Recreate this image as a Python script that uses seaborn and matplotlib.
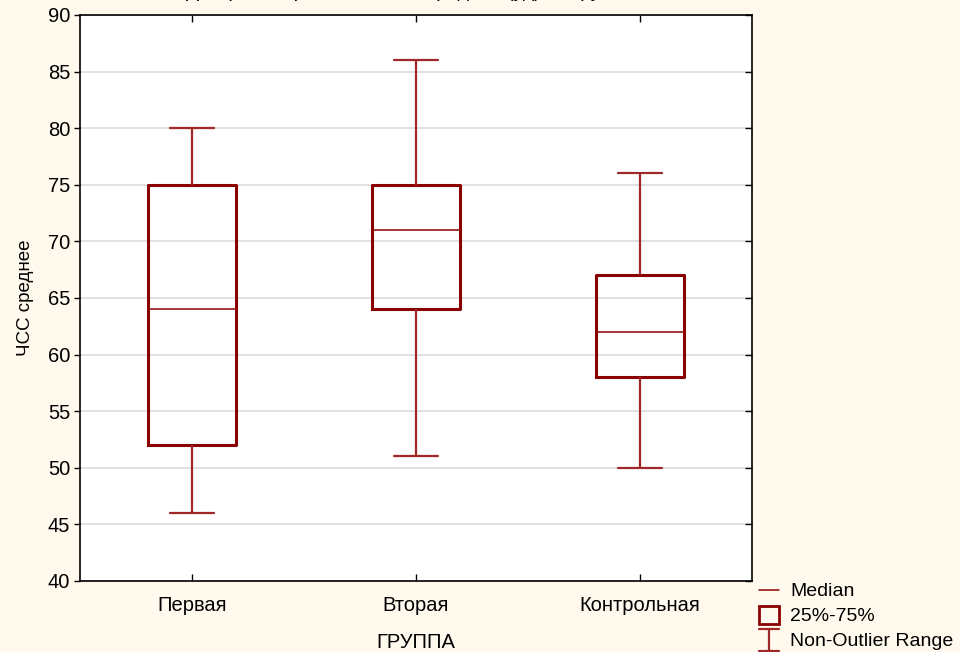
import numpy as np
import pandas as pd
import matplotlib
matplotlib.use("Agg")
import matplotlib.pyplot as plt
import seaborn as sns
from matplotlib.lines import Line2D
from matplotlib.patches import Rectangle
from matplotlib.legend_handler import HandlerBase

# Five-number summaries per group: whisker low, Q1, median, Q3, whisker high
groups = ["Первая", "Вторая", "Контрольная"]
first_vals = [46, 52, 64, 75, 80]
second_vals = [51, 64, 71, 75, 86]
control_vals = [50, 58, 62, 67, 76]

df = pd.DataFrame({
    "ГРУППА": np.repeat(groups, 5),
    "ЧСС среднее": first_vals + second_vals + control_vals,
})

BG = "#FFF9EE"
RED = "#8B0000"
WRED = "#A02828"

sns.set_theme(style="white")
plt.rcParams["font.family"] = ["Liberation Sans", "DejaVu Sans"]
plt.rcParams["text.color"] = "black"
plt.rcParams["axes.labelcolor"] = "black"
plt.rcParams["xtick.color"] = "black"
plt.rcParams["ytick.color"] = "black"

fig = plt.figure(figsize=(9.6, 6.52), dpi=100, facecolor=BG)
ax = fig.add_axes([80 / 960, 1 - 581 / 652, 672 / 960, 566 / 652])
ax.set_facecolor("white")

sns.boxplot(
    data=df, x="ГРУППА", y="ЧСС среднее", order=groups, ax=ax,
    width=0.39, whis=np.inf, fill=False, showfliers=False, color=RED,
    boxprops=dict(color=RED, linewidth=2.2),
    medianprops=dict(color=RED, linewidth=1.1),
    whiskerprops=dict(color=WRED, linewidth=1.6),
    capprops=dict(color=WRED, linewidth=1.6),
)

ax.set_ylim(40, 90)
ax.set_xlim(-0.5, 2.5)
ax.set_yticks(np.arange(40, 91, 5))
ax.yaxis.grid(True, color="#DCDCDC", linewidth=1.2)
ax.set_axisbelow(True)
for s in ax.spines.values():
    s.set_visible(True)
    s.set_color("black")
    s.set_linewidth(1.2)

ax.tick_params(axis="y", which="both", left=True, right=True, direction="out",
               length=4, width=1, color="black", labelsize=14.5, pad=3,
               labelcolor="black")
ax.tick_params(axis="x", bottom=True, top=True, direction="in",
               length=5, width=1, color="black", labelsize=14.5, pad=11,
               labelcolor="black")
# right-side ticks point inward
for t in ax.yaxis.get_major_ticks():
    t.tick2line.set_marker(matplotlib.lines.TICKLEFT)
    t.tick2line.set_markersize(5)

ax.set_xlabel("ГРУППА", fontsize=14.5, labelpad=13, color="black")
ax.set_ylabel("ЧСС среднее", fontsize=13.5, labelpad=10, color="black")

fig.text(416 / 960, 1 + 3 / 652, "Диаграмма размаха: ЧСС среднее (уд) по группам",
         ha="center", va="baseline", fontsize=14, color="black")


class WhiskerHandler(HandlerBase):
    def create_artists(self, legend, orig_handle, xdescent, ydescent,
                       width, height, fontsize, trans):
        cx = width / 2 - xdescent
        y0 = -ydescent - 0.4 * height
        y1 = -ydescent + 1.2 * height
        lw = 1.6
        return [
            Line2D([cx, cx], [y0, y1], color=WRED, lw=lw, transform=trans),
            Line2D([cx - 7, cx + 7], [y0, y0], color=WRED, lw=lw, transform=trans),
            Line2D([cx - 7, cx + 7], [y1, y1], color=WRED, lw=lw, transform=trans),
        ]


class BoxHandler(HandlerBase):
    def create_artists(self, legend, orig_handle, xdescent, ydescent,
                       width, height, fontsize, trans):
        cx = width / 2 - xdescent
        return [Rectangle((cx - 7, -ydescent - 0.2 * height), 14, 1.3 * height,
                          fill=False, edgecolor=RED, lw=2.0, transform=trans)]


h_med = Line2D([], [], color=RED, lw=1.1)
h_box = Rectangle((0, 0), 1, 1)
h_rng = Line2D([], [])
fig.legend(
    [h_med, h_box, h_rng], ["Median", "25%-75%", "Non-Outlier Range"],
    handler_map={h_box: BoxHandler(), h_rng: WhiskerHandler()},
    loc="upper left", bbox_to_anchor=(755 / 960, 1 - 579 / 652),
    frameon=False, fontsize=14, handlelength=1.05, handletextpad=0.55,
    labelspacing=0.36, borderaxespad=0, borderpad=0.2,
)

fig.savefig("out.png", dpi=100, facecolor=BG)
